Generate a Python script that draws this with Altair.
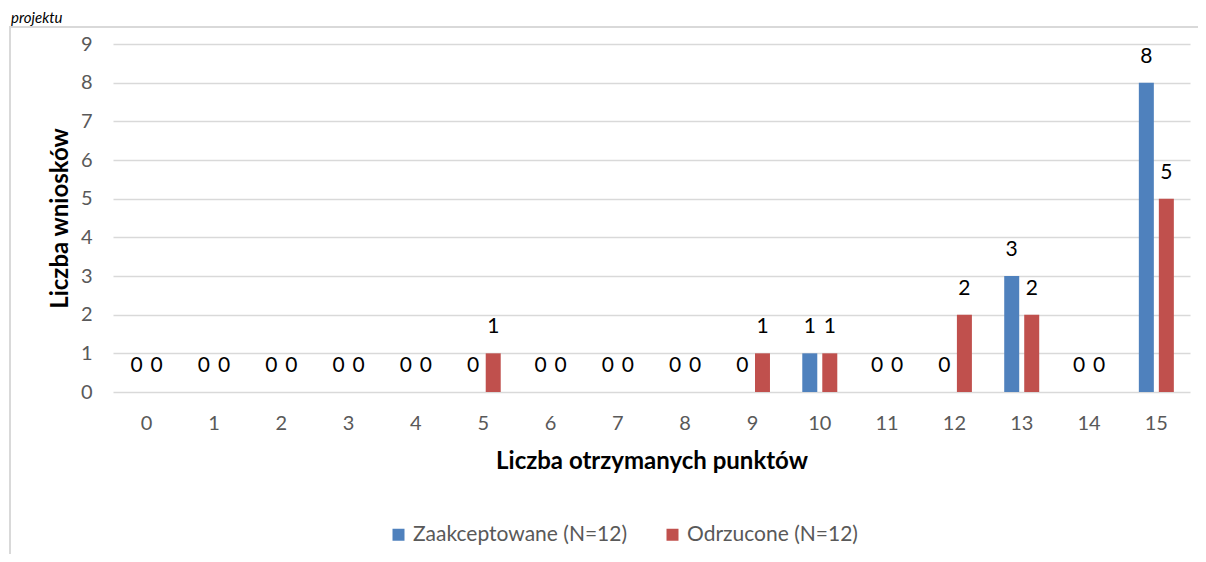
import altair as alt
import pandas as pd

categories = [str(i) for i in range(16)]
series_names = ["Zaakceptowane (N=12)", "Odrzucone (N=12)"]
accepted = [0, 0, 0, 0, 0, 0, 0, 0, 0, 0, 1, 0, 0, 3, 0, 8]
rejected = [0, 0, 0, 0, 0, 1, 0, 0, 0, 1, 1, 0, 2, 2, 0, 5]
colors = ["#4F81BD", "#C0504D"]
y_ticks = list(range(10))

rows = []
for c, a, r in zip(categories, accepted, rejected):
    rows.append({"pkt": c, "seria": series_names[0], "n": a})
    rows.append({"pkt": c, "seria": series_names[1], "n": r})
df = pd.DataFrame(rows)

FONT = "Lato"
W, H = 1077, 348

x_enc = alt.X("pkt:N", sort=categories,
              scale=alt.Scale(paddingInner=0, paddingOuter=0),
              axis=alt.Axis(title="Liczba otrzymanych punktów", labelAngle=0,
                            labelFontSize=20, labelColor="#595959", labelFont=FONT,
                            labelPadding=21, ticks=False, domain=False, grid=False,
                            titleFontSize=24, titleFont=FONT, titleFontWeight="bold",
                            titleColor="#000000", titlePadding=16))
xo_enc = alt.XOffset("seria:N", sort=series_names,
                     scale=alt.Scale(paddingInner=0.25, paddingOuter=0.8075))
y_enc = alt.Y("n:Q", scale=alt.Scale(domain=[0, 9], nice=False),
              axis=alt.Axis(title="Liczba wniosków", values=y_ticks, tickCount=10,
                            format="d", labelOverlap=False,
                            labelFontSize=20, labelColor="#595959", labelFont=FONT,
                            labelPadding=21, ticks=False, domain=False,
                            grid=True, gridColor="#D9D9D9", gridWidth=1.5,
                            titleFontSize=24, titleFont=FONT, titleFontWeight="bold",
                            titleColor="#000000", titlePadding=8))
color_enc = alt.Color("seria:N", sort=series_names,
                      scale=alt.Scale(domain=series_names, range=colors),
                      legend=alt.Legend(title=None, orient="none", legendX=275, legendY=480,
                                        direction="horizontal", symbolType="square",
                                        symbolSize=144, symbolStrokeWidth=0,
                                        labelFontSize=21, labelFont=FONT, labelLimit=0,
                                        labelColor="#595959", labelOffset=4,
                                        columnPadding=34, padding=0))

base = alt.Chart(df)
bars = base.mark_bar().encode(x=x_enc, xOffset=xo_enc, y=y_enc, color=color_enc)
labels = base.mark_text(baseline="middle", align="center", dy=-26,
                        fontSize=21, font=FONT, color="#000000").encode(
    x=x_enc, xOffset=xo_enc, y=y_enc, text="n:Q")

frame_df = pd.DataFrame({"k": [0]})
left_border = alt.Chart(frame_df).mark_rule(color="#D9D9D9", strokeWidth=2).encode(
    x=alt.value(-103), y=alt.value(-17), y2=alt.value(560))
top_border = alt.Chart(frame_df).mark_rule(color="#D9D9D9", strokeWidth=2).encode(
    x=alt.value(-104), x2=alt.value(1100), y=alt.value(-17))
title_txt = alt.Chart(frame_df).mark_text(text="projektu", align="left",
                                          baseline="alphabetic", fontStyle="italic",
                                          fontSize=15, font=FONT, color="#000000").encode(
    x=alt.value(-102), y=alt.value(-21))

chart = alt.layer(left_border, top_border, title_txt, bars, labels).properties(
    width=W, height=H,
    autosize=alt.AutoSizeParams(type="none"),
    padding={"left": 105, "top": 36, "right": 8, "bottom": 162},
).configure(background="#FFFFFF", view=alt.ViewConfig(stroke=None))

chart.save("out.html", embed_options={"renderer": "svg", "actions": False})
